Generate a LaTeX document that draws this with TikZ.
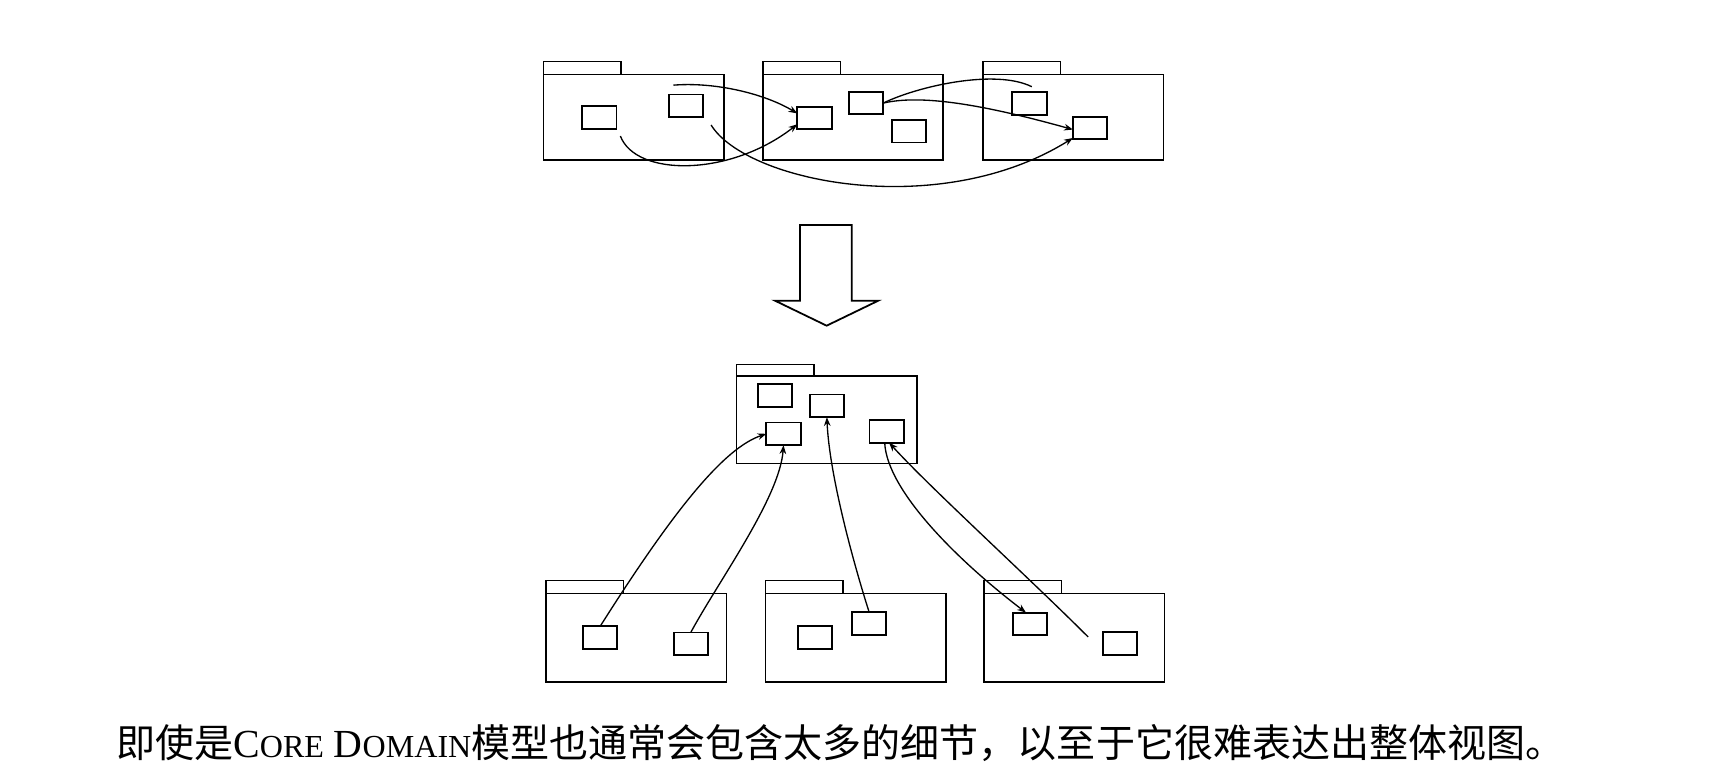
\documentclass[tikz,border=0pt]{standalone}
\usepackage{fontspec}
\setmainfont{Liberation Serif}
\newfontfamily\cjk{Noto Sans CJK SC}
\usetikzlibrary{arrows.meta,calc}
\newcommand{\pkgat}[4]{%
  \node[pkgbody, minimum height=#4] (#1) at (#2,#3) {};
  \node[pkgtab, anchor=south west] (#1t) at (#1.north west) {};
}
\begin{document}
\begin{tikzpicture}[x=1pt,y=-1pt,
  pkgbody/.style={draw, line width=1.4pt, minimum width=163pt, inner sep=0pt, outer sep=0pt},
  pkgtab/.style={draw, line width=1.4pt, minimum width=70pt, minimum height=11.5pt, inner sep=0pt, outer sep=0pt},
  cls/.style={draw, line width=1.7pt, minimum width=31pt, minimum height=20.5pt, inner sep=0pt, outer sep=0pt},
  dep/.style={line width=1.2pt},
  deparrow/.style={dep, -{Stealth[length=8pt,width=6pt]}},
  bigarrow/.style={draw, line width=1.6pt, line join=miter}
]
\useasboundingbox (0,0) rectangle (1568,702);

% ---------- top row ----------
\pkgat{p1}{573}{106}{77.5pt}
\pkgat{p2}{771.4}{106}{77.5pt}
\pkgat{p3}{970.5}{106}{77.5pt}

\node[cls] (a) at (542,106.2) {};
\node[cls] (b) at (620.2,95.7) {};
\node[cls] (c) at (736.5,106.7) {};
\node[cls] (d) at (783.2,93.2) {};
\node[cls] (e) at (821.7,118.6) {};
\node[cls] (f) at (931,93.5) {};
\node[cls] (g) at (985.7,115.8) {};

\coordinate (a1s) at (609,77);
\coordinate (a2s) at (561,123);
\coordinate (a3s) at (643,113);
\coordinate (a4e) at (933,78.4);

\draw[deparrow] (a1s) .. controls (645,74) and (690,84) .. (c.165);
\draw[deparrow] (a2s) .. controls (575,160) and (660,160) .. (c.200);
\draw[deparrow] (a3s) .. controls (675,165) and (850,200) .. (g.210);
\draw[dep] (d.east) .. controls (830,78) and (900,62) .. (a4e);
\draw[deparrow] (d.east) .. controls (830,86) and (880,92) .. (g.185);

% ---------- big arrow ----------
\draw[bigarrow] (723.4,203.5) -- (770.1,203.5) -- (770.1,271.9) -- (794.2,271.9)
  -- (747.5,294.5) -- (700.8,271.9) -- (723.4,271.9) -- cycle;

% ---------- middle package ----------
\node[pkgbody, minimum height=79pt] (m) at (747.5,379.5) {};
\node[pkgtab, minimum height=10.5pt, anchor=south west] (mt) at (m.north west) {};
\node[cls] (m1) at (701,357.5) {};
\node[cls] (m2) at (747.7,367) {};
\node[cls] (m3) at (708.5,392.3) {};
\node[cls] (m4) at (801.8,390) {};

% ---------- bottom row ----------
\pkgat{q1}{575.4}{576.5}{80pt}
\pkgat{q2}{773.7}{576.5}{80pt}
\pkgat{q3}{971.4}{576.5}{80pt}

\node[cls] (b1a) at (542.7,576.6) {};
\node[cls] (b1b) at (624.6,582.2) {};
\node[cls] (b2a) at (736.8,576.6) {};
\node[cls] (b2b) at (786,564) {};
\node[cls] (b3a) at (931.5,564.2) {};
\node[cls] (b3b) at (1012.6,582) {};

\coordinate (l5s) at (984,576);
\draw[deparrow] (b1a.north) .. controls (610,460) and (655,405) .. (m3.west);
\draw[deparrow] (b1b.north) .. controls (650,525) and (705,450) .. (m3.south);
\draw[deparrow] (b2b.north) .. controls (772,510) and (750,430) .. (m2.south);
\draw[deparrow] (m4.260) .. controls (802,445) and (870,510) .. (b3a.110);
\draw[deparrow] (l5s) .. controls (930,522) and (840,440) .. (m4.282);

% ---------- caption ----------
\node[anchor=west, inner sep=0pt] (cap) at (104.9,672)
  {\fontsize{35.3pt}{40pt}\selectfont\cjk 即使是\rmfamily\fontsize{36pt}{40pt}\selectfont C{\fontsize{29pt}{30pt}\selectfont ORE} D{\fontsize{29pt}{30pt}\selectfont OMAIN}\fontsize{35.3pt}{40pt}\cjk\selectfont 模型也通常会包含太多的细节，以至于它很难表达出整体视图。};
\end{tikzpicture}
\end{document}
